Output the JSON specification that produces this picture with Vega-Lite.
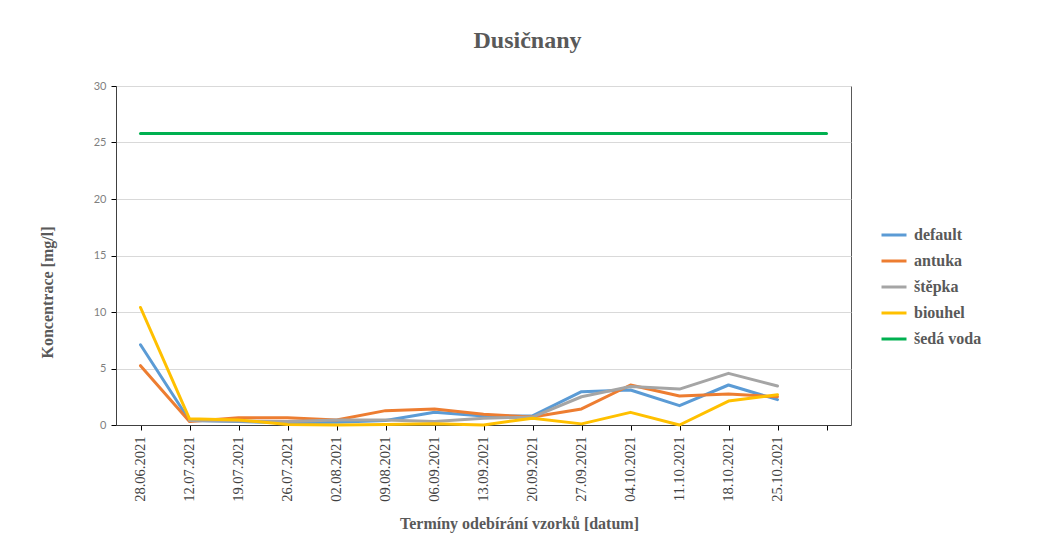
{
  "$schema": "https://vega.github.io/schema/vega-lite/v6.json",
  "autosize": {"type": "none"},
  "padding": {"left": 116, "top": 86, "right": 210, "bottom": 117},
  "width": 735,
  "height": 339,
  "background": "white",
  "title": {
    "text": "Dusičnany",
    "font": "Liberation Serif",
    "fontSize": 24,
    "fontWeight": "bold",
    "color": "#595959",
    "anchor": "middle",
    "dx": 44,
    "offset": 27
  },
  "data": {
    "values": [
      {"date": "28.06.2021", "series": "default", "value": 7.1},
      {"date": "12.07.2021", "series": "default", "value": 0.4},
      {"date": "19.07.2021", "series": "default", "value": 0.3},
      {"date": "26.07.2021", "series": "default", "value": 0.2},
      {"date": "02.08.2021", "series": "default", "value": 0.25},
      {"date": "09.08.2021", "series": "default", "value": 0.4},
      {"date": "06.09.2021", "series": "default", "value": 1.12},
      {"date": "13.09.2021", "series": "default", "value": 0.8},
      {"date": "20.09.2021", "series": "default", "value": 0.8},
      {"date": "27.09.2021", "series": "default", "value": 2.95},
      {"date": "04.10.2021", "series": "default", "value": 3.1},
      {"date": "11.10.2021", "series": "default", "value": 1.71},
      {"date": "18.10.2021", "series": "default", "value": 3.54},
      {"date": "25.10.2021", "series": "default", "value": 2.24},

      {"date": "28.06.2021", "series": "antuka", "value": 5.25},
      {"date": "12.07.2021", "series": "antuka", "value": 0.3},
      {"date": "19.07.2021", "series": "antuka", "value": 0.65},
      {"date": "26.07.2021", "series": "antuka", "value": 0.65},
      {"date": "02.08.2021", "series": "antuka", "value": 0.45},
      {"date": "09.08.2021", "series": "antuka", "value": 1.27},
      {"date": "06.09.2021", "series": "antuka", "value": 1.42},
      {"date": "13.09.2021", "series": "antuka", "value": 0.95},
      {"date": "20.09.2021", "series": "antuka", "value": 0.7},
      {"date": "27.09.2021", "series": "antuka", "value": 1.42},
      {"date": "04.10.2021", "series": "antuka", "value": 3.54},
      {"date": "11.10.2021", "series": "antuka", "value": 2.57},
      {"date": "18.10.2021", "series": "antuka", "value": 2.74},
      {"date": "25.10.2021", "series": "antuka", "value": 2.5},

      {"date": "12.07.2021", "series": "štěpka", "value": 0.4},
      {"date": "19.07.2021", "series": "štěpka", "value": 0.35},
      {"date": "26.07.2021", "series": "štěpka", "value": 0.3},
      {"date": "02.08.2021", "series": "štěpka", "value": 0.45},
      {"date": "09.08.2021", "series": "štěpka", "value": 0.45},
      {"date": "06.09.2021", "series": "štěpka", "value": 0.3},
      {"date": "13.09.2021", "series": "štěpka", "value": 0.6},
      {"date": "20.09.2021", "series": "štěpka", "value": 0.7},
      {"date": "27.09.2021", "series": "štěpka", "value": 2.5},
      {"date": "04.10.2021", "series": "štěpka", "value": 3.4},
      {"date": "11.10.2021", "series": "štěpka", "value": 3.18},
      {"date": "18.10.2021", "series": "štěpka", "value": 4.57},
      {"date": "25.10.2021", "series": "štěpka", "value": 3.45},

      {"date": "28.06.2021", "series": "biouhel", "value": 10.4},
      {"date": "12.07.2021", "series": "biouhel", "value": 0.55},
      {"date": "19.07.2021", "series": "biouhel", "value": 0.45},
      {"date": "26.07.2021", "series": "biouhel", "value": 0.05},
      {"date": "02.08.2021", "series": "biouhel", "value": 0.0},
      {"date": "09.08.2021", "series": "biouhel", "value": 0.05},
      {"date": "06.09.2021", "series": "biouhel", "value": 0.1},
      {"date": "13.09.2021", "series": "biouhel", "value": 0.0},
      {"date": "20.09.2021", "series": "biouhel", "value": 0.6},
      {"date": "27.09.2021", "series": "biouhel", "value": 0.1},
      {"date": "04.10.2021", "series": "biouhel", "value": 1.12},
      {"date": "11.10.2021", "series": "biouhel", "value": 0.0},
      {"date": "18.10.2021", "series": "biouhel", "value": 2.12},
      {"date": "25.10.2021", "series": "biouhel", "value": 2.68},

      {"date": "28.06.2021", "series": "šedá voda", "value": 25.8},
      {"date": "12.07.2021", "series": "šedá voda", "value": 25.8},
      {"date": "19.07.2021", "series": "šedá voda", "value": 25.8},
      {"date": "26.07.2021", "series": "šedá voda", "value": 25.8},
      {"date": "02.08.2021", "series": "šedá voda", "value": 25.8},
      {"date": "09.08.2021", "series": "šedá voda", "value": 25.8},
      {"date": "06.09.2021", "series": "šedá voda", "value": 25.8},
      {"date": "13.09.2021", "series": "šedá voda", "value": 25.8},
      {"date": "20.09.2021", "series": "šedá voda", "value": 25.8},
      {"date": "27.09.2021", "series": "šedá voda", "value": 25.8},
      {"date": "04.10.2021", "series": "šedá voda", "value": 25.8},
      {"date": "11.10.2021", "series": "šedá voda", "value": 25.8},
      {"date": "18.10.2021", "series": "šedá voda", "value": 25.8},
      {"date": "25.10.2021", "series": "šedá voda", "value": 25.8},
      {"date": " ", "series": "šedá voda", "value": 25.8}
    ]
  },
  "mark": {"type": "line", "strokeWidth": 3, "strokeCap": "round", "strokeJoin": "round"},
  "encoding": {
    "x": {
      "field": "date",
      "type": "ordinal",
      "scale": {
        "type": "point",
        "padding": 0.5,
        "domain": ["28.06.2021", "12.07.2021", "19.07.2021", "26.07.2021", "02.08.2021", "09.08.2021", "06.09.2021", "13.09.2021", "20.09.2021", "27.09.2021", "04.10.2021", "11.10.2021", "18.10.2021", "25.10.2021", " "]
      },
      "axis": {
        "title": "Termíny odebírání vzorků [datum]",
        "titleFont": "Liberation Serif",
        "titleFontSize": 16,
        "titleFontWeight": "bold",
        "titleColor": "#595959",
        "titleX": 403,
        "titleY": 103,
        "titleBaseline": "alphabetic",
        "labelAngle": -90,
        "labelFont": "Liberation Serif",
        "labelFontSize": 14.5,
        "labelColor": "#404040",
        "labelPadding": 6,
        "tickSize": 5,
        "tickColor": "#000000",
        "domainColor": "#404040",
        "grid": false
      }
    },
    "y": {
      "field": "value",
      "type": "quantitative",
      "scale": {"domain": [0, 30], "nice": false},
      "axis": {
        "title": "Koncentrace [mg/l]",
        "titleFont": "Liberation Serif",
        "titleFontSize": 16,
        "titleFontWeight": "bold",
        "titleColor": "#595959",
        "titleX": -69,
        "titleY": 206,
        "titleAngle": -90,
        "titleAlign": "center",
        "titleBaseline": "middle",
        "values": [0, 5, 10, 15, 20, 25, 30],
        "labelFont": "Lato",
        "labelFontSize": 11,
        "labelColor": "#7f7f7f",
        "labelPadding": 5,
        "tickSize": 5,
        "tickColor": "#000000",
        "domainColor": "#404040",
        "grid": true,
        "gridColor": "#d9d9d9"
      }
    },
    "color": {
      "field": "series",
      "type": "nominal",
      "scale": {
        "domain": ["default", "antuka", "štěpka", "biouhel", "šedá voda"],
        "range": ["#5B9BD5", "#ED7D31", "#A5A5A5", "#FFC000", "#00B050"]
      },
      "legend": {
        "title": null,
        "orient": "none",
        "legendX": 764,
        "legendY": 135,
        "padding": 0,
        "symbolType": "stroke",
        "symbolSize": 625,
        "symbolStrokeWidth": 3,
        "rowPadding": 4,
        "labelOffset": 6,
        "labelFont": "Liberation Serif",
        "labelFontSize": 16,
        "labelFontWeight": "bold",
        "labelColor": "#595959"
      }
    }
  },
  "config": {
    "view": {"stroke": "#595959", "strokeWidth": 1}
  }
}
